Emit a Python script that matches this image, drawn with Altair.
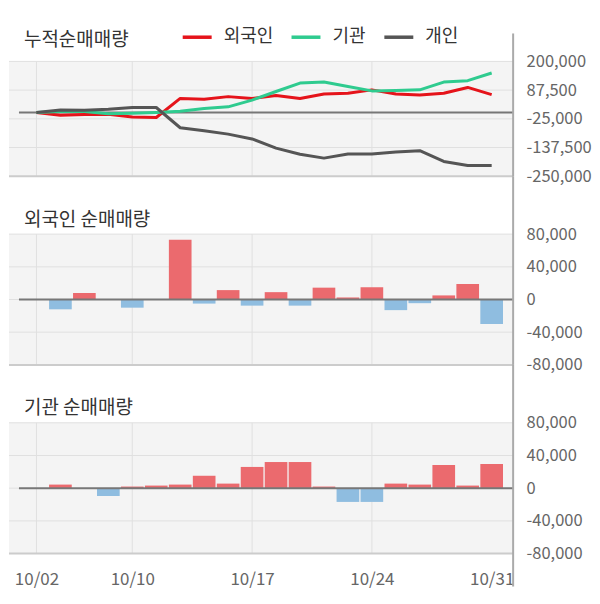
import altair as alt
import pandas as pd

# ---------------- data ----------------
dates = ["10/02", "10/04", "10/07", "10/08", "10/10", "10/11", "10/14", "10/15",
         "10/16", "10/17", "10/18", "10/21", "10/22", "10/23", "10/24", "10/25",
         "10/28", "10/29", "10/30", "10/31"]
tick_dates = ["10/02", "10/10", "10/17", "10/24", "10/31"]
grid_dates = ["10/02", "10/10", "10/17", "10/24"]

series_names = ["외국인", "기관", "개인"]
series_colors = ["#e5131a", "#2fcb8f", "#555555"]

foreign_cum = [0, -11000, -8000, -7000, -18000, -20000, 55000, 52000, 62000, 55000,
               66000, 55000, 72500, 75000, 88500, 72500, 68500, 75000, 98000, 70000]
inst_cum = [0, 4000, 4000, -5000, -3000, 0, 4500, 15000, 22000, 48500,
            82000, 115000, 119000, 102000, 84500, 86000, 88500, 119000, 124500, 154500]
indiv_cum = [0, 10000, 8700, 12600, 19300, 19300, -60000, -72000, -85000, -104000,
             -140000, -164000, -179000, -163000, -163000, -155000, -150000, -192000, -208000, -208000]

foreign_net = [0, -12000, 8000, 0, -10000, 0, 73000, -5000, 11500, -7500,
               9000, -7500, 14500, 2500, 15000, -13000, -4500, 5000, 19000, -30000]
inst_net = [0, 4400, 0, -9600, 2000, 3200, 4400, 15200, 5600, 26000,
            32000, 32000, 2000, -16800, -16800, 5600, 4400, 28400, 3200, 29600]

cum_ticks = [-250000, -137500, -25000, 87500, 200000]
net_ticks = [-80000, -40000, 0, 40000, 80000]

titles = ["누적순매매량", "외국인 순매매량", "기관 순매매량"]

# ---------------- layout / style ----------------
FONT = "Noto Sans CJK KR"
W = 505
H1, H2, H3 = 158, 189, 189
GRAY1, GRAY2, GRAY3 = 115, 131, 131
XMIN, XMAX = -1.146, 19.896
ZERO_START = -0.73
BAR_HALF = 0.473
RED_BAR = "#eb6a6e"
BLUE_BAR = "#8fbde0"
BG = "#f4f4f4"
GRID = "#e0e0e0"

idx = list(range(len(dates)))
tick_idx = [dates.index(d) for d in tick_dates]
grid_idx = [dates.index(d) for d in grid_dates]

label_arr = "[" + ",".join("'" + d + "'" for d in dates) + "]"
xs = alt.Scale(domain=[XMIN, XMAX], nice=False, zero=False)


def make_yscale(ticks, total_px, gray_px):
    lo, hi = ticks[0], ticks[-1]
    top = hi + (hi - lo) * (total_px - gray_px) / gray_px
    return alt.Scale(domain=[lo, top], nice=False, zero=False)


def make_yaxis(ticks):
    return alt.Axis(orient="right", values=ticks, grid=False, ticks=False, tickSize=0,
                    domain=False, title=None,
                    labelExpr="replace(format(datum.value, ','), '\u2212', '-')",
                    labelFont=FONT, labelFontSize=16.5, labelColor="#666666",
                    labelPadding=13)


def make_xaxis(show):
    if not show:
        return None
    return alt.Axis(values=tick_idx, labelExpr=label_arr + "[datum.value]",
                    grid=False, ticks=False, tickSize=0, domain=False, title=None,
                    labelFont=FONT, labelFontSize=17, labelColor="#666666",
                    labelPadding=26, labelBaseline="middle")


def frame_layers(ticks, H, gray_px, title, title_y, rule_y0, rule_y1, show_x):
    ys = make_yscale(ticks, H, gray_px)
    ya = make_yaxis(ticks)
    xa = make_xaxis(show_x)
    lo, hi = ticks[0], ticks[-1]

    bg = alt.Chart(pd.DataFrame({"hi": [hi], "lo": [lo]})).mark_rect(color=BG).encode(
        x=alt.value(0), x2=alt.value(W),
        y=alt.Y("hi:Q", scale=ys, axis=ya), y2="lo:Q")
    hgrid = alt.Chart(pd.DataFrame({"t": ticks[1:]})).mark_rule(color=GRID, strokeWidth=1).encode(
        x=alt.value(0), x2=alt.value(W),
        y=alt.Y("t:Q", scale=ys, axis=ya))
    vgrid = alt.Chart(pd.DataFrame({"i": grid_idx, "hi": [hi] * len(grid_idx),
                                    "lo": [lo] * len(grid_idx)})).mark_rule(
        color=GRID, strokeWidth=1).encode(
        x=alt.X("i:Q", scale=xs, axis=xa),
        y=alt.Y("hi:Q", scale=ys, axis=ya), y2="lo:Q")
    border = alt.Chart(pd.DataFrame({"t": [lo]})).mark_rule(color="#cccccc", strokeWidth=2).encode(
        x=alt.value(0), x2=alt.value(W),
        y=alt.Y("t:Q", scale=ys, axis=ya))
    zero = alt.Chart(pd.DataFrame({"a": [ZERO_START], "b": [XMAX], "z": [0]})).mark_rule(
        color="#777777", strokeWidth=2).encode(
        x=alt.X("a:Q", scale=xs, axis=xa), x2="b:Q",
        y=alt.Y("z:Q", scale=ys, axis=ya))
    ttl = alt.Chart(pd.DataFrame({"label": [title]})).mark_text(
        align="left", baseline="middle", font=FONT, fontSize=19, color="#333333").encode(
        x=alt.value(15), y=alt.value(title_y), text="label:N")
    vline = alt.Chart(pd.DataFrame({"a": [0]})).mark_rule(color="#aaaaaa", strokeWidth=2).encode(
        x=alt.value(W), y=alt.value(rule_y0), y2=alt.value(rule_y1))
    return ys, ya, xa, bg, hgrid, vgrid, border, zero, ttl, vline


# ---------- panel 1: cumulative lines ----------
ys1, ya1, xa1, bg1, hg1, vg1, bd1, z1, t1, vl1 = frame_layers(
    cum_ticks, H1, GRAY1, titles[0], 22, 15, H1, False)

rows = []
for name, vals in zip(series_names, [foreign_cum, inst_cum, indiv_cum]):
    for i, v in zip(idx, vals):
        rows.append({"i": i, "v": v, "s": name, "o": series_names.index(name)})
line_df = pd.DataFrame(rows)

lines = alt.Chart(line_df).mark_line(strokeWidth=3, strokeJoin="round").encode(
    x=alt.X("i:Q", scale=xs, axis=xa1),
    y=alt.Y("v:Q", scale=ys1, axis=ya1),
    color=alt.Color("s:N", sort=series_names,
                    scale=alt.Scale(domain=series_names, range=series_colors),
                    legend=alt.Legend(orient="none", legendX=172, legendY=2,
                                      direction="horizontal", columns=3, title=None,
                                      symbolType="stroke", symbolStrokeWidth=3.5,
                                      symbolSize=841, labelFont=FONT, labelFontSize=18,
                                      labelColor="#333333", labelOffset=10,
                                      columnPadding=11, padding=0)),
    order=alt.Order("o:Q", sort="descending"),
    detail="s:N")

p1 = alt.layer(bg1, hg1, vg1, bd1, z1, lines, t1, vl1).properties(width=W, height=H1)


# ---------- bar panels ----------
def bar_panel(values, title, H, gray_px, rule_y1, show_x):
    ys, ya, xa, bg, hg, vg, bd, z, t, vl = frame_layers(
        net_ticks, H, gray_px, title, 43.5, 0, rule_y1, show_x)
    df = pd.DataFrame({"i": idx, "v": values})
    bars = alt.Chart(df).transform_calculate(
        x0=f"datum.i - {BAR_HALF}", x1=f"datum.i + {BAR_HALF}"
    ).mark_bar().encode(
        x=alt.X("x0:Q", scale=xs, axis=xa), x2="x1:Q",
        y=alt.Y("v:Q", scale=ys, axis=ya), y2=alt.datum(0),
        color=alt.condition(alt.datum.v >= 0, alt.value(RED_BAR), alt.value(BLUE_BAR)))
    return alt.layer(bg, hg, vg, bd, bars, z, t, vl).properties(width=W, height=H)


p2 = bar_panel(foreign_net, titles[1], H2, GRAY2, H2, False)
p3 = bar_panel(inst_net, titles[2], H3, GRAY3, H3 + 33, True)

chart = alt.vconcat(p1, p2, p3, spacing=0, bounds="flush").properties(
    padding={"left": 0, "top": 10, "right": 0, "bottom": 12}
).configure_view(stroke=None)

chart.save("out.html", embed_options={"renderer": "svg", "actions": False})
